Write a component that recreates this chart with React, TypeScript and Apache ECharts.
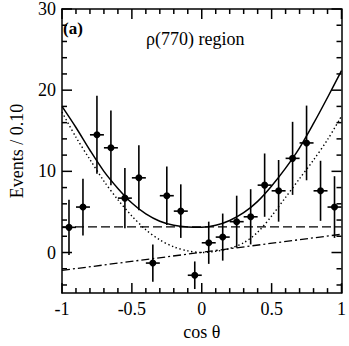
import React, { useEffect, useRef } from "react";
import * as echarts from "echarts";

// Measured data points (bin centres in cos θ)
const cosCenters = [-0.95, -0.85, -0.75, -0.65, -0.55, -0.45, -0.35, -0.25, -0.15, -0.05, 0.05, 0.15, 0.25, 0.35, 0.45, 0.55, 0.65, 0.75, 0.85, 0.95];
const events = [3.1, 5.6, 14.5, 12.9, 6.7, 9.2, -1.3, 7.0, 5.1, -2.8, 1.2, 1.9, 3.8, 4.4, 8.3, 7.6, 11.6, 13.5, 7.6, 5.6];
const errors = [3.4, 3.5, 4.8, 4.6, 3.7, 4.0, 2.3, 3.6, 3.3, 1.7, 2.6, 2.9, 3.2, 3.4, 3.9, 3.8, 4.5, 4.6, 3.7, 3.8];
const binHalfWidth = 0.05;

// Fit curves
const curveX = [-1, -0.9, -0.8, -0.7, -0.6, -0.5, -0.4, -0.3, -0.2, -0.1, 0, 0.1, 0.2, 0.3, 0.4, 0.5, 0.6, 0.7, 0.8, 0.9, 1];
const totalFit = [18.0, 15.4, 12.6, 10.0, 7.9, 6.1, 4.75, 3.85, 3.35, 3.15, 3.12, 3.35, 3.95, 4.9, 6.3, 8.2, 10.4, 12.9, 15.9, 19.1, 22.4];
const signalFit = [17.3, 14.2, 11.45, 8.8, 6.5, 4.5, 2.8, 1.55, 0.7, 0.2, 0.0, 0.15, 0.5, 1.2, 2.5, 4.5, 6.8, 9.1, 11.4, 13.9, 16.8];
const lineX = [-1, 1];
const flatBkg = [3.15, 3.15];
const linearBkg = [-2.2, 2.25];

// Axes
const xRange = [-1, 1];
const yRange = [-5, 30];
const xMajorTicks = [-1, -0.5, 0, 0.5, 1];
const xMinorTicks = [-0.9, -0.8, -0.7, -0.6, -0.4, -0.3, -0.2, -0.1, 0.1, 0.2, 0.3, 0.4, 0.6, 0.7, 0.8, 0.9];
const yMajorTicks = [0, 10, 20, 30];
const yMinorTicks = [-4, -2, 2, 4, 6, 8, 12, 14, 16, 18, 22, 24, 26, 28];

const FONT = "Liberation Serif";
const MAJOR_LEN = 10;
const MINOR_LEN = 5;

export default function App() {
  const ref = useRef<HTMLDivElement>(null);
  useEffect(() => {
    if (!ref.current) return;
    const chart = echarts.init(ref.current, null, { renderer: "svg" });
    const axisLine = { show: true, onZero: false, lineStyle: { color: "#000", width: 1.5 } };
    const xBase = {
      type: "value" as const,
      min: xRange[0],
      max: xRange[1],
      interval: 0.5,
      axisLine,
      axisTick: { show: false },
      minorTick: { show: false },
      splitLine: { show: false },
      minorSplitLine: { show: false },
    };
    const yBase = {
      type: "value" as const,
      min: yRange[0],
      max: yRange[1],
      axisLine,
      axisTick: { show: false },
      splitLine: { show: false },
    };
    // tick descriptors: [x, y, length, axis (0 = x, 1 = y)]
    const tickData = [
      ...xMajorTicks.map((v) => [v, 0, MAJOR_LEN, 0]),
      ...xMinorTicks.map((v) => [v, 0, MINOR_LEN, 0]),
      ...yMajorTicks.map((v) => [0, v, MAJOR_LEN, 1]),
      ...yMinorTicks.map((v) => [0, v, MINOR_LEN, 1]),
    ];
    chart.setOption({
      animation: false,
      textStyle: { fontFamily: FONT, color: "#000" },
      grid: { left: 49, right: 6, top: 7, bottom: 44 },
      xAxis: [
        {
          ...xBase,
          position: "bottom",
          axisLabel: { color: "#000", fontSize: 18, fontFamily: FONT, margin: 7 },
          name: "cos θ",
          nameLocation: "middle",
          nameGap: 26,
          nameTextStyle: { color: "#000", fontSize: 18, fontFamily: FONT },
        },
        { ...xBase, position: "top", axisLabel: { show: false } },
      ],
      yAxis: [
        {
          ...yBase,
          position: "left",
          axisLabel: { color: "#000", fontSize: 18, fontFamily: FONT, margin: 6, customValues: yMajorTicks },
          name: "Events / 0.10",
          nameLocation: "middle",
          nameRotate: 90,
          nameGap: 36,
          nameTextStyle: { color: "#000", fontSize: 18, fontFamily: FONT },
        },
        { ...yBase, position: "right", axisLabel: { show: false } },
      ],
      graphic: [
        {
          type: "text",
          left: 63,
          top: 20,
          style: { text: "(a)", font: `bold 17px ${FONT}`, fill: "#000" },
        },
        {
          type: "text",
          left: 146,
          top: 30,
          style: { text: "ρ(770) region", font: `18px ${FONT}`, fill: "#000" },
        },
      ],
      series: [
        {
          type: "custom",
          silent: true,
          clip: false,
          z: 10,
          data: tickData,
          renderItem: (params: any, api: any) => {
            const x = api.value(0);
            const y = api.value(1);
            const len = api.value(2);
            const axis = api.value(3);
            const st = { stroke: "#000", lineWidth: 1.5 };
            if (axis === 0) {
              const b = api.coord([x, yRange[0]]);
              const t = api.coord([x, yRange[1]]);
              return {
                type: "group",
                children: [
                  { type: "line", shape: { x1: b[0], y1: b[1], x2: b[0], y2: b[1] - len }, style: st },
                  { type: "line", shape: { x1: t[0], y1: t[1], x2: t[0], y2: t[1] + len }, style: st },
                ],
              };
            }
            const l = api.coord([xRange[0], y]);
            const r = api.coord([xRange[1], y]);
            return {
              type: "group",
              children: [
                { type: "line", shape: { x1: l[0], y1: l[1], x2: l[0] + len, y2: l[1] }, style: st },
                { type: "line", shape: { x1: r[0], y1: r[1], x2: r[0] - len, y2: r[1] }, style: st },
              ],
            };
          },
        },
        {
          type: "line",
          data: lineX.map((x, i) => [x, flatBkg[i]]),
          showSymbol: false,
          lineStyle: { color: "#000", width: 1.3, type: [9, 4] },
          silent: true,
        },
        {
          type: "line",
          data: lineX.map((x, i) => [x, linearBkg[i]]),
          showSymbol: false,
          lineStyle: { color: "#000", width: 1.3, type: [8, 3, 2, 3] },
          silent: true,
        },
        {
          type: "line",
          data: curveX.map((x, i) => [x, signalFit[i]]),
          smooth: 0.3,
          showSymbol: false,
          lineStyle: { color: "#000", width: 1.4, type: [1.4, 2.6] },
          silent: true,
        },
        {
          type: "line",
          data: curveX.map((x, i) => [x, totalFit[i]]),
          smooth: 0.3,
          showSymbol: false,
          lineStyle: { color: "#000", width: 1.5 },
          silent: true,
        },
        {
          type: "custom",
          data: cosCenters.map((x, i) => [x, events[i], errors[i]]),
          renderItem: (params: any, api: any) => {
            const x = api.value(0);
            const y = api.value(1);
            const e = api.value(2);
            const c = api.coord([x, y]);
            const top = api.coord([x, y + e]);
            const bot = api.coord([x, y - e]);
            const l = api.coord([x - binHalfWidth, y]);
            const r = api.coord([x + binHalfWidth, y]);
            const st = { stroke: "#000", lineWidth: 1.6 };
            return {
              type: "group",
              children: [
                { type: "line", shape: { x1: top[0], y1: top[1], x2: bot[0], y2: bot[1] }, style: st },
                { type: "line", shape: { x1: l[0], y1: l[1], x2: r[0], y2: r[1] }, style: st },
                { type: "circle", shape: { cx: c[0], cy: c[1], r: 3.5 }, style: { fill: "#000" } },
              ],
            };
          },
        },
      ],
    });
    return () => chart.dispose();
  }, []);
  return <div ref={ref} style={{ position: "fixed", left: 0, top: 0, width: 349, height: 346, background: "#fff" }} />;
}
